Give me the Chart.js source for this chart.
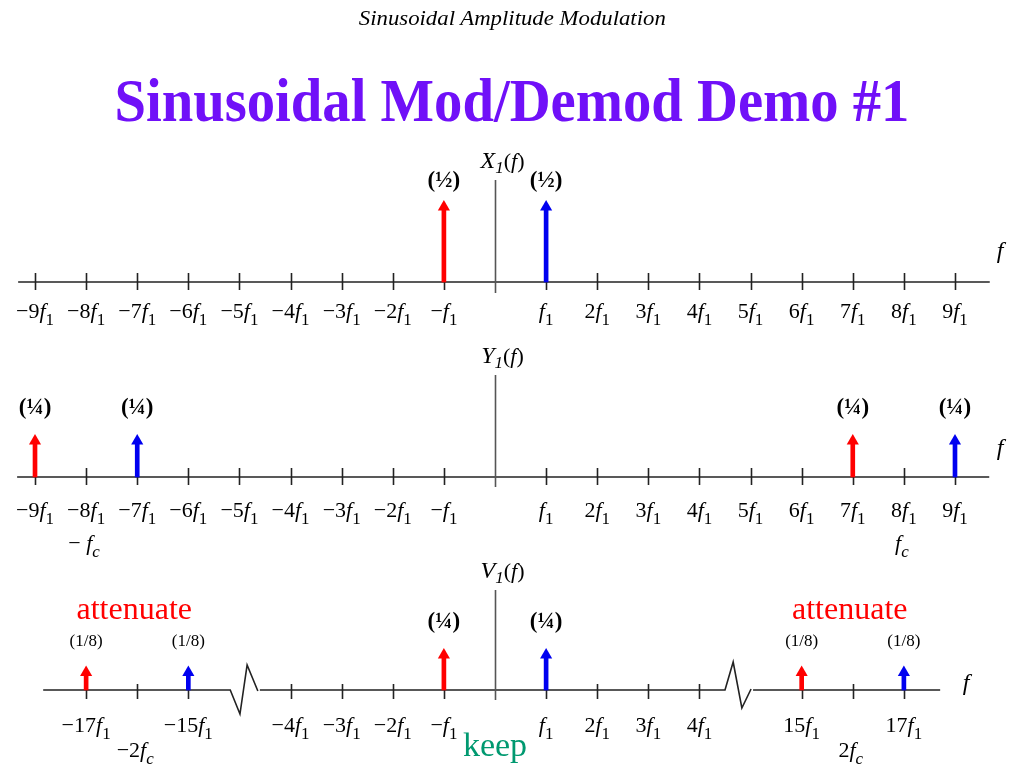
<!DOCTYPE html>
<html>
<head>
<meta charset="utf-8">
<title>Sinusoidal Mod/Demod Demo #1</title>
<script src="https://cdn.jsdelivr.net/npm/chart.js@4.4.1/dist/chart.umd.min.js"></script>
<style>
  html, body { margin: 0; padding: 0; background: #fff; }
  #slide { position: relative; width: 1024px; height: 768px; overflow: hidden; }
  #spectra { position: absolute; left: 0; top: 0; }
  .txt { position: absolute; left: 0; width: 1024px; text-align: center; white-space: nowrap;
         font-family: "Liberation Serif", "Times New Roman", serif; line-height: 1; }
  #hdr { top: 7px; font-size: 22px; font-style: italic; color: #000; }
  #ttl { top: 69px; font-size: 62px; font-weight: bold; color: #7010f8; }
  .fit { display: inline-block; transform-origin: 50% 50%; }
</style>
</head>
<body>
<div id="slide">
  <canvas id="spectra" width="1024" height="768"></canvas>
  <div class="txt" id="hdr"><span class="fit" data-w="307">Sinusoidal Amplitude Modulation</span></div>
  <div class="txt" id="ttl"><span class="fit" data-w="795">Sinusoidal Mod/Demod Demo #1</span></div>
</div>
<script>
// ---- data (frequencies in multiples of f1, amplitudes of the impulses) ----
const x1RedF = [-1];
const x1RedA = [0.5];
const x1BlueF = [1];
const x1BlueA = [0.5];

const y1RedF = [-9, 7];
const y1RedA = [0.25, 0.25];
const y1BlueF = [-7, 9];
const y1BlueA = [0.25, 0.25];

const v1RedF = [-17, -1, 15];
const v1RedA = [0.125, 0.25, 0.125];
const v1BlueF = [-15, 1, 17];
const v1BlueA = [0.125, 0.25, 0.125];

// tick marks and which of them carry an n*f1 label
const x1Ticks = [-9, -8, -7, -6, -5, -4, -3, -2, -1, 1, 2, 3, 4, 5, 6, 7, 8, 9];
const y1Ticks = [-9, -8, -7, -6, -5, -4, -3, -2, -1, 1, 2, 3, 4, 5, 6, 7, 8, 9];
const v1Ticks = [-17, -16, -15, -4, -3, -2, -1, 1, 2, 3, 4, 15, 16, 17];
const v1TickLabels = [-17, -15, -4, -3, -2, -1, 1, 2, 3, 4, 15, 17];

// carrier labels (fc = 8 f1)
const y1CarrierAt = [-8, 8];
const y1CarrierPrefix = ['\u2212 ', ''];
const v1CarrierAt = [-16, 16];
const v1CarrierPrefix = ['\u22122', '2'];

const ampText = { 0.5: '(\u00bd)', 0.25: '(\u00bc)', 0.125: '(1/8)' };

// ---- layout ----
const W = 1024, H = 768;
const ZERO_X = 495, PX_PER_F = 51.11;
const SERIF = '"Liberation Serif", "Times New Roman", serif';
const RED = '#ff0000', BLUE = '#0000f0';

// the V1 panel has a broken axis: |f| > 10 is pulled in by 9 f1
function axisPos(f) {
    if (f > 10) return f - 9;
    if (f < -10) return f + 9;
    return f;
}

function yRange(zeroPx, ppu) {
    return { type: 'linear', display: false, min: -(H - zeroPx) / ppu, max: zeroPx / ppu };
}

const panels = [
    { y: 'y1', name: 'X', from: -9.33, to: 9.68, up: 9, down: 8, labelDy: 36, top: 180, bot: 293,
      fx: 1000, fDy: -24, ampGap: 21, ticks: x1Ticks, labeled: x1Ticks,
      red: [x1RedF, x1RedA], blue: [x1BlueF, x1BlueA] },
    { y: 'y2', name: 'Y', from: -9.35, to: 9.67, up: 9, down: 8, labelDy: 40, top: 375, bot: 487,
      fx: 1000, fDy: -22, ampGap: 28, ticks: y1Ticks, labeled: y1Ticks,
      red: [y1RedF, y1RedA], blue: [y1BlueF, y1BlueA],
      carrierAt: y1CarrierAt, carrierPrefix: y1CarrierPrefix, carrierDy: 73 },
    { y: 'y3', name: 'V', from: -8.84, to: 8.71, up: 6, down: 9, labelDy: 42, top: 590, bot: 700,
      fx: 966, fDy: 0, ampGap: 28, ticks: v1Ticks, labeled: v1TickLabels,
      red: [v1RedF, v1RedA], blue: [v1BlueF, v1BlueA],
      carrierAt: v1CarrierAt, carrierPrefix: v1CarrierPrefix, carrierDy: 67,
      breaks: [
          [[-5.18, 0], [-4.99, 24], [-4.85, -25], [-4.64, 1]],
          [[4.50, 0], [4.66, -28], [4.83, 18], [5.01, -1]]
      ] }
];

function points(fs, as) {
    return fs.map((f, i) => ({ x: axisPos(f), y: as[i] }));
}

const datasets = [];
panels.forEach(p => {
    [[p.red, RED], [p.blue, BLUE]].forEach(([[fs, as], color]) => {
        datasets.push({
            type: 'bar', yAxisID: p.y, data: points(fs, as), backgroundColor: color,
            barThickness: 4, grouped: false, borderWidth: 0, order: 1
        });
        datasets.push({
            type: 'scatter', yAxisID: p.y, data: points(fs, as), backgroundColor: color,
            pointStyle: 'triangle', pointRadius: 7, borderWidth: 0, order: 0
        });
    });
});

// mixed-font text, centred on cx
function rich(ctx, parts, cx, by) {
    let w = 0;
    parts.forEach(pt => { ctx.font = pt.font; pt.w = ctx.measureText(pt.t).width; w += pt.w; });
    let x = cx - w / 2;
    ctx.textAlign = 'left';
    ctx.textBaseline = 'alphabetic';
    parts.forEach(pt => {
        ctx.font = pt.font;
        ctx.fillStyle = pt.color || '#000';
        ctx.fillText(pt.t, x, by + (pt.dy || 0));
        x += pt.w;
    });
}

const REG = '22px ' + SERIF, ITAL = 'italic 22px ' + SERIF, SUB = '17px ' + SERIF;

function f1Label(n) {
    let pre = n === -1 ? '\u2212' : n === 1 ? '' : (n < 0 ? '\u2212' : '') + Math.abs(n);
    return [{ t: pre, font: REG }, { t: 'f', font: ITAL }, { t: '1', font: SUB, dy: 7 }];
}

const axesPlugin = {
    id: 'spectrumAxes',
    beforeDatasetsDraw(chart) {
        const ctx = chart.ctx, xs = chart.scales.x;
        ctx.save();
        panels.forEach(p => {
            const ys = chart.scales[p.y];
            const y0 = ys.getPixelForValue(0);
            ctx.strokeStyle = '#222';
            ctx.lineWidth = 1.6;
            // horizontal axis, possibly with zigzag breaks
            ctx.beginPath();
            ctx.moveTo(xs.getPixelForValue(p.from), y0);
            (p.breaks || []).forEach(br => {
                br.forEach(([u, dy]) => ctx.lineTo(xs.getPixelForValue(u), y0 + dy));
                ctx.moveTo(xs.getPixelForValue(br[br.length - 1][0]) + 2, y0);
            });
            ctx.lineTo(xs.getPixelForValue(p.to), y0);
            ctx.stroke();
            // tick marks
            ctx.beginPath();
            p.ticks.forEach(f => {
                const x = Math.round(xs.getPixelForValue(axisPos(f))) + 0.5;
                ctx.moveTo(x, y0 - p.up);
                ctx.lineTo(x, y0 + p.down);
            });
            ctx.stroke();
            // vertical axis
            ctx.strokeStyle = '#555';
            ctx.beginPath();
            const xz = Math.round(xs.getPixelForValue(0)) + 0.5;
            ctx.moveTo(xz, p.top);
            ctx.lineTo(xz, p.bot);
            ctx.stroke();
            // tick labels
            p.labeled.forEach(f => rich(ctx, f1Label(f), xs.getPixelForValue(axisPos(f)), y0 + p.labelDy));
            (p.carrierAt || []).forEach((f, i) => {
                rich(ctx, [{ t: p.carrierPrefix[i], font: REG }, { t: 'f', font: ITAL },
                           { t: 'c', font: 'italic 17px ' + SERIF, dy: 7 }],
                     xs.getPixelForValue(axisPos(f)) - 2, y0 + p.carrierDy);
            });
            // spectrum name and f
            rich(ctx, [{ t: p.name, font: 'italic 24px ' + SERIF }, { t: '1', font: 'italic 17px ' + SERIF, dy: 5 },
                       { t: '(', font: REG }, { t: 'f', font: ITAL }, { t: ')', font: REG }],
                 xz + 7, p.top - 12);
            rich(ctx, [{ t: 'f', font: 'italic 24px ' + SERIF }], p.fx, y0 + p.fDy);
        });
        ctx.restore();
    },
    afterDatasetsDraw(chart) {
        const ctx = chart.ctx, xs = chart.scales.x;
        ctx.save();
        panels.forEach(p => {
            const ys = chart.scales[p.y];
            [p.red, p.blue].forEach(([fs, as]) => {
                fs.forEach((f, i) => {
                    const small = as[i] < 0.2;
                    const font = small ? '17px ' + SERIF : 'bold 23px ' + SERIF;
                    rich(ctx, [{ t: ampText[as[i]], font }], xs.getPixelForValue(axisPos(f)),
                         ys.getPixelForValue(as[i]) - p.ampGap + 1);
                });
            });
        });
        // annotations on the demodulated spectrum
        const y3 = chart.scales.y3.getPixelForValue(0);
        v1CarrierAt.forEach(f => {
            rich(ctx, [{ t: 'attenuate', font: '32px ' + SERIF, color: RED }],
                 xs.getPixelForValue(axisPos(f)) - 3, y3 - 71);
        });
        rich(ctx, [{ t: 'keep', font: '34px ' + SERIF, color: '#009970' }], xs.getPixelForValue(0), y3 + 66);
        ctx.restore();
    }
};

new Chart(document.getElementById('spectra'), {
    type: 'scatter',
    data: { datasets },
    options: {
        responsive: false,
        animation: false,
        events: [],
        layout: { padding: 0, autoPadding: false },
        plugins: { legend: { display: false }, tooltip: { enabled: false } },
        scales: {
            x: { type: 'linear', display: false, offset: false,
                 min: -ZERO_X / PX_PER_F, max: (W - ZERO_X) / PX_PER_F },
            y1: yRange(282, 150),
            y2: yRange(477, 144),
            y3: yRange(690, 140)
        }
    },
    plugins: [axesPlugin]
});

// squeeze the slide text to the condensed widths of the original
document.querySelectorAll('.fit').forEach(el => {
    const w = el.getBoundingClientRect().width;
    el.style.transform = 'scaleX(' + (Number(el.dataset.w) / w).toFixed(3) + ')';
});
</script>
</body>
</html>
